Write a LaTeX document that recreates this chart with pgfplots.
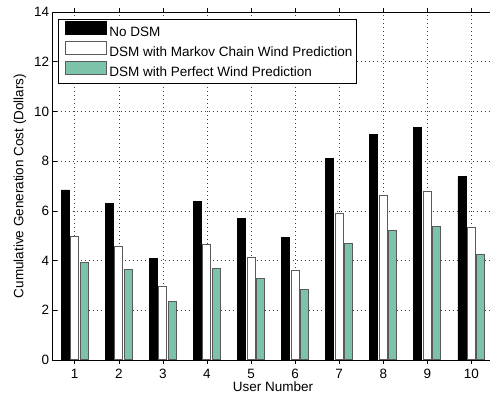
\documentclass[border=0pt]{standalone}
\usepackage{pgfplots}
\pgfplotsset{compat=1.18}
\usepackage{fontspec}
\setmainfont{Liberation Sans}
\definecolor{bargreen}{RGB}{125,195,170}
\definecolor{baredge}{RGB}{90,90,90}
\newcommand{\fs}{\fontsize{13.5}{15.5}\selectfont}
\begin{document}
\begin{tikzpicture}[x=1pt,y=1pt]
\begin{axis}[
  at={(52.7pt,36pt)}, anchor=south west,
  scale only axis, width=440.8pt, height=348pt,
  xmin=0.5, xmax=10.5, ymin=0, ymax=14,
  xtick={1,...,10}, ytick={0,2,...,14},
  /pgf/number format/assume math mode=true,
  tick label style={font=\fs},
  xticklabel style={yshift=-2pt},
  label style={font=\fs},
  xlabel={User Number},
  ylabel={Cumulative Generation Cost (Dollars)},
  xlabel style={at={(axis description cs:0.5,0)}, anchor=center, yshift=-26.7pt},
  ylabel style={at={(axis description cs:-0.0742,0.5)}, anchor=center},
  tick align=inside, major tick length=4pt,
  axis line style={line width=0.8pt},
  tick style={line width=0.6pt, black},
  grid=major,
  major grid style={black!75, line width=0.5pt, dash pattern=on 0.8pt off 3.2pt},
  ybar=1.5pt, bar width=8pt,
  legend cell align=left,
  legend style={at={(0.012,0.98)}, anchor=north west, font=\fs,
    draw=black, line width=0.8pt, inner xsep=2pt, inner ysep=1.7pt,
    row sep=0pt,
    nodes={inner xsep=2.3pt, inner ysep=2.35pt, text height=9.6pt, text depth=2.7pt}},
  legend image code/.code={\path (0pt,0pt); \draw[#1] (4.7pt,-1.75pt) rectangle (45.7pt,11.25pt);},
]
\addplot[fill=black, draw=black, line width=0.8pt] coordinates {
(1,6.84) (2,6.29) (3,4.08) (4,6.37) (5,5.68) (6,4.93) (7,8.11) (8,9.06) (9,9.36) (10,7.37)};
\addplot[fill=white, draw=baredge, line width=1pt] coordinates {
(1,4.95) (2,4.56) (3,2.96) (4,4.64) (5,4.13) (6,3.59) (7,5.90) (8,6.60) (9,6.79) (10,5.35)};
\addplot[fill=bargreen, draw=baredge, line width=1pt] coordinates {
(1,3.93) (2,3.63) (3,2.35) (4,3.67) (5,3.27) (6,2.84) (7,4.68) (8,5.22) (9,5.39) (10,4.25)};
\legend{No DSM, DSM with Markov Chain Wind Prediction, DSM with Perfect Wind Prediction}
\end{axis}
\pgfresetboundingbox
\path[use as bounding box] (0,0) rectangle (490pt,396pt);
\end{tikzpicture}
\end{document}
